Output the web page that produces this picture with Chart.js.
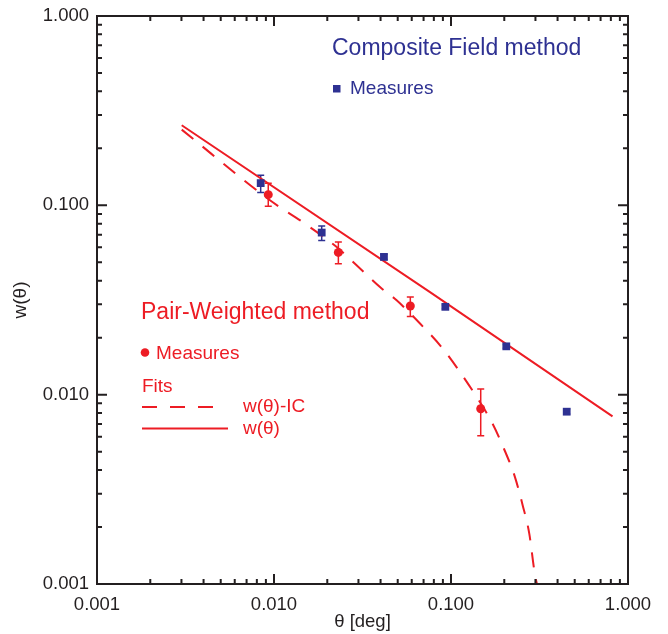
<!DOCTYPE html>
<html>
<head>
<meta charset="utf-8">
<script src="https://cdn.jsdelivr.net/npm/chart.js@4.4.0/dist/chart.umd.min.js"></script>
<style>
  html, body { margin: 0; padding: 0; background: #fff; }
</style>
</head>
<body>
<canvas id="chart" width="668" height="634"></canvas>
<script>
// composite field method, measures (theta in deg, w)
let blueTheta = [0.00841, 0.0186, 0.0418, 0.0929, 0.2053, 0.4505];
let blueW     = [0.131, 0.0718, 0.0534, 0.0291, 0.0180, 0.00813];
let blueLo    = [0.117, 0.0653, 0.0517, 0.0284, 0.0176, 0.0079];
let blueHi    = [0.144, 0.0777, 0.0552, 0.0298, 0.0184, 0.0084];

// pair-weighted method, measures
let redTheta = [0.00928, 0.0231, 0.0589, 0.1472];
let redW     = [0.1139, 0.0564, 0.0294, 0.00843];
let redLo    = [0.0988, 0.0492, 0.0259, 0.00607];
let redHi    = [0.1307, 0.0640, 0.0328, 0.01071];

// fit w(theta)
let fitTheta = [0.00301, 0.0761, 0.8175];
let fitW     = [0.2647, 0.0348, 0.00768];

// fit w(theta)-IC
let icTheta = [0.00301, 0.00949, 0.01497, 0.02261, 0.02868, 0.0397, 0.0493, 0.0697, 0.0886,
               0.1124, 0.1397, 0.1698, 0.1992, 0.2298, 0.2542, 0.2770, 0.2955, 0.309];
let icW     = [0.2511, 0.1063, 0.0800, 0.0602, 0.0492, 0.0370, 0.0315, 0.0228, 0.0178,
               0.01317, 0.00971, 0.00717, 0.00518, 0.00367, 0.00260, 0.00184, 0.00118, 0.00095];

let xTicks = [0.001, 0.01, 0.1, 1];
let yTicks = [0.001, 0.01, 0.1, 1];

const BLUE = '#2e3192';
const RED = '#ed1c24';
const INK = '#231f20';
const FONT = '"Liberation Sans", Arial, Helvetica, sans-serif';

function pairs(xs, ys) {
    return xs.map((x, i) => ({x: x, y: ys[i]}));
}

// minor tick values 2..9 inside each decade
function minors(decades) {
    let out = [];
    for (let i = 0; i < decades.length - 1; i++) {
        for (let k = 2; k <= 9; k++) out.push(decades[i] * k);
    }
    return out;
}

// error bars, drawn under the markers
const errorBars = {
    id: 'errorBars',
    beforeDatasetsDraw(chart) {
        const ctx = chart.ctx;
        const xs = chart.scales.x, ys = chart.scales.y;
        function draw(tx, lo, hi, color) {
            ctx.save();
            ctx.strokeStyle = color;
            ctx.lineWidth = 1.5;
            tx.forEach((t, i) => {
                let px = xs.getPixelForValue(t);
                let p1 = ys.getPixelForValue(lo[i]);
                let p2 = ys.getPixelForValue(hi[i]);
                ctx.beginPath();
                ctx.moveTo(px, p1); ctx.lineTo(px, p2);
                ctx.moveTo(px - 3.5, p1); ctx.lineTo(px + 3.5, p1);
                ctx.moveTo(px - 3.5, p2); ctx.lineTo(px + 3.5, p2);
                ctx.stroke();
            });
            ctx.restore();
        }
        draw(blueTheta, blueLo, blueHi, BLUE);
        draw(redTheta, redLo, redHi, RED);
    }
};

// box with inward ticks on all four sides, plus the text annotations
const frame = {
    id: 'frame',
    afterDraw(chart) {
        const ctx = chart.ctx;
        const {left, right, top, bottom} = chart.chartArea;
        const xs = chart.scales.x, ys = chart.scales.y;
        ctx.save();
        ctx.strokeStyle = INK;
        ctx.lineWidth = 2;
        ctx.strokeRect(left, top, right - left, bottom - top);
        ctx.beginPath();
        xTicks.forEach(v => {
            let px = xs.getPixelForValue(v);
            ctx.moveTo(px, bottom); ctx.lineTo(px, bottom - 10);
            ctx.moveTo(px, top); ctx.lineTo(px, top + 10);
        });
        minors(xTicks).forEach(v => {
            let px = xs.getPixelForValue(v);
            ctx.moveTo(px, bottom); ctx.lineTo(px, bottom - 5);
            ctx.moveTo(px, top); ctx.lineTo(px, top + 5);
        });
        yTicks.forEach(v => {
            let py = ys.getPixelForValue(v);
            ctx.moveTo(left, py); ctx.lineTo(left + 10, py);
            ctx.moveTo(right, py); ctx.lineTo(right - 10, py);
        });
        minors(yTicks).forEach(v => {
            let py = ys.getPixelForValue(v);
            ctx.moveTo(left, py); ctx.lineTo(left + 5, py);
            ctx.moveTo(right, py); ctx.lineTo(right - 5, py);
        });
        ctx.stroke();

        // composite field labels
        ctx.fillStyle = BLUE;
        ctx.textBaseline = 'alphabetic';
        ctx.font = '23px ' + FONT;
        ctx.fillText('Composite Field method', 332, 55);
        ctx.fillRect(333, 85, 7.5, 7.5);
        ctx.font = '19px ' + FONT;
        ctx.fillText('Measures', 350, 94);

        // pair-weighted labels
        ctx.fillStyle = RED;
        ctx.strokeStyle = RED;
        ctx.font = '23px ' + FONT;
        ctx.fillText('Pair-Weighted method', 141, 319);
        ctx.beginPath();
        ctx.arc(145, 352.5, 4.3, 0, Math.PI * 2);
        ctx.fill();
        ctx.font = '19px ' + FONT;
        ctx.fillText('Measures', 156, 358.5);
        ctx.fillText('Fits', 142, 391.5);
        ctx.textBaseline = 'middle';
        ctx.fillText('w(\u03b8)-IC', 243, 407);
        ctx.fillText('w(\u03b8)', 243, 429);
        ctx.lineWidth = 2;
        ctx.setLineDash([15, 13]);
        ctx.beginPath();
        ctx.moveTo(142, 407); ctx.lineTo(218, 407);
        ctx.stroke();
        ctx.setLineDash([]);
        ctx.beginPath();
        ctx.moveTo(142, 428.5); ctx.lineTo(228, 428.5);
        ctx.stroke();
        ctx.restore();
    }
};

new Chart(document.getElementById('chart'), {
    type: 'scatter',
    data: {
        datasets: [
            {
                label: 'Composite Field measures',
                data: pairs(blueTheta, blueW),
                pointStyle: 'rect',
                pointRadius: 5.5,
                backgroundColor: BLUE,
                borderColor: BLUE,
                borderWidth: 0,
                showLine: false
            },
            {
                label: 'Pair-Weighted measures',
                data: pairs(redTheta, redW),
                pointStyle: 'circle',
                pointRadius: 4.5,
                backgroundColor: RED,
                borderColor: RED,
                borderWidth: 0,
                showLine: false
            },
            {
                label: 'w(\u03b8)',
                data: pairs(fitTheta, fitW),
                showLine: true,
                borderColor: RED,
                borderWidth: 2,
                pointRadius: 0
            },
            {
                label: 'w(\u03b8)-IC',
                data: pairs(icTheta, icW),
                showLine: true,
                borderColor: RED,
                borderWidth: 2,
                borderDash: [15, 12],
                cubicInterpolationMode: 'monotone',
                pointRadius: 0
            }
        ]
    },
    options: {
        responsive: false,
        animation: false,
        layout: { padding: { left: 0, right: 40, top: 16, bottom: 0 } },
        plugins: {
            legend: { display: false },
            tooltip: { enabled: false }
        },
        scales: {
            x: {
                type: 'logarithmic',
                min: 0.001,
                max: 1,
                afterBuildTicks: s => { s.ticks = xTicks.map(v => ({value: v})); },
                afterFit: s => { s.height = 50; },
                grid: { display: false },
                border: { display: false },
                ticks: {
                    callback: v => Number(v).toFixed(3),
                    font: { family: FONT, size: 18.5 },
                    color: INK,
                    padding: 2,
                    maxRotation: 0,
                    autoSkip: false
                },
                title: {
                    display: true,
                    text: '\u03b8 [deg]',
                    font: { family: FONT, size: 18.5 },
                    color: INK,
                    padding: { top: 0, bottom: 1 }
                }
            },
            y: {
                type: 'logarithmic',
                min: 0.001,
                max: 1,
                afterBuildTicks: s => { s.ticks = yTicks.map(v => ({value: v})); },
                afterFit: s => { s.width = 97; },
                grid: { display: false },
                border: { display: false },
                ticks: {
                    callback: v => Number(v).toFixed(3),
                    font: { family: FONT, size: 18.5 },
                    color: INK,
                    padding: 0,
                    autoSkip: false
                },
                title: {
                    display: true,
                    text: 'w(\u03b8)',
                    font: { family: FONT, size: 19 },
                    color: INK,
                    padding: { top: 9, bottom: 0 }
                }
            }
        }
    },
    plugins: [errorBars, frame]
});
</script>
</body>
</html>
